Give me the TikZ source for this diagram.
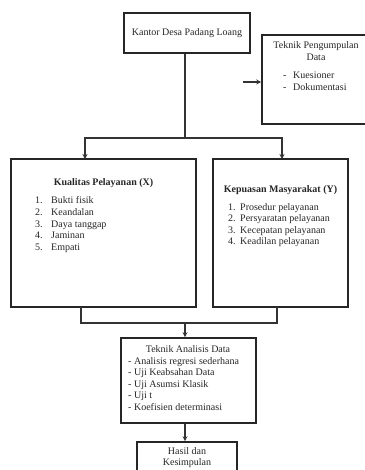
\documentclass[tikz,border=0pt]{standalone}
\usepackage{fontspec}
\setmainfont{Liberation Serif}
\usetikzlibrary{arrows.meta}
\begin{document}
\begin{tikzpicture}[x=1pt,y=-1pt,
  box/.style={draw=black!85, line width=1.6pt, rectangle, inner sep=0pt},
  conn/.style={draw=black!80, line width=1.1pt},
  arr/.style={conn, -{Stealth[length=5pt,width=5pt]}},
  txt/.style={inner sep=0pt, font=\fontsize{10}{11.6}\selectfont, text=black!85},
  every node/.style={font=\fontsize{10}{11.6}\selectfont}]
\useasboundingbox (0,0) rectangle (364,470);
\fill[white] (0,0) rectangle (364,470);

% boxes
\node[box, minimum width=126pt, minimum height=40pt, txt, draw=black!85, line width=1.6pt] (kantor) at (187,33) {Kantor Desa Padang Loang};
\node[box, minimum width=130pt, minimum height=89pt] (tpd) at (327,79.5) {};
\node[box, minimum width=185pt, minimum height=148pt] (kual) at (103.5,233) {};
\node[box, minimum width=135pt, minimum height=148pt] (kep) at (280.5,233) {};
\node[box, minimum width=135pt, minimum height=85pt] (tad) at (188.5,380.5) {};
\node[box, minimum width=100pt, minimum height=38pt] (hasil) at (187,461) {};

% texts
\node[txt, align=center] (tpdt) at (316,51) {Teknik Pengumpulan\\Data};
\node[txt, anchor=base west] (tpdl) at (283,79) {\begin{tabular}[t]{@{}l@{\hspace{6.7pt}}l@{}}-&Kuesioner\\-&Dokumentasi\end{tabular}};

\node[txt, font=\fontsize{10}{11.6}\selectfont\bfseries] (kualt) at (103.5,183) {Kualitas Pelayanan (X)};
\node[txt, anchor=base west] (kuall) at (35,204) {\begin{tabular}[t]{@{}l@{}l@{}}\makebox[16pt][l]{1.}&Bukti fisik\\\makebox[16pt][l]{2.}&Keandalan\\\makebox[16pt][l]{3.}&Daya tanggap\\\makebox[16pt][l]{4.}&Jaminan\\\makebox[16pt][l]{5.}&Empati\end{tabular}};

\node[txt, font=\fontsize{10}{11.6}\selectfont\bfseries] (kept) at (280.5,190) {Kepuasan Masyarakat (Y)};
\node[txt, anchor=base west] (kepl) at (228,210) {\begin{tabular}[t]{@{}l@{}l@{}}\makebox[12pt][l]{1.}&Prosedur pelayanan\\\makebox[12pt][l]{2.}&Persyaratan pelayanan\\\makebox[12pt][l]{3.}&Kecepatan pelayanan\\\makebox[12pt][l]{4.}&Keadilan pelayanan\end{tabular}};

\node[txt] (tadt) at (188,349) {Teknik Analisis Data};
\node[txt, anchor=base west] (tadl) at (128,364) {\begin{tabular}[t]{@{}l@{}}- Analisis regresi sederhana\\- Uji Keabsahan Data\\- Uji Asumsi Klasik\\- Uji t\\- Koefisien determinasi\end{tabular}};

\node[txt, align=center] (hasilt) at (187,457.5) {Hasil dan\\Kesimpulan};

% connectors
\coordinate (jt) at (185,138);
\coordinate (kin) at (85,159);
\coordinate (kepin) at (282,159);
\coordinate (tpdin) at (243,82);
\coordinate (kout) at (81,307);
\coordinate (kepout) at (277,307);
\coordinate (jb) at (185,323);

\draw[conn] (jt |- kantor.south) -- (jt);
\draw[arr] (jt) -| (kin);
\draw[arr] (jt) -| (kepin);
\draw[arr] (tpdin) -- (tpdin -| tpd.west);
\draw[conn] (kout) |- (jb) -| (kepout);
\draw[arr] (jb) -- (jb |- tad.north);
\draw[arr] (jb |- tad.south) -- (jb |- hasil.north);
\end{tikzpicture}
\end{document}
